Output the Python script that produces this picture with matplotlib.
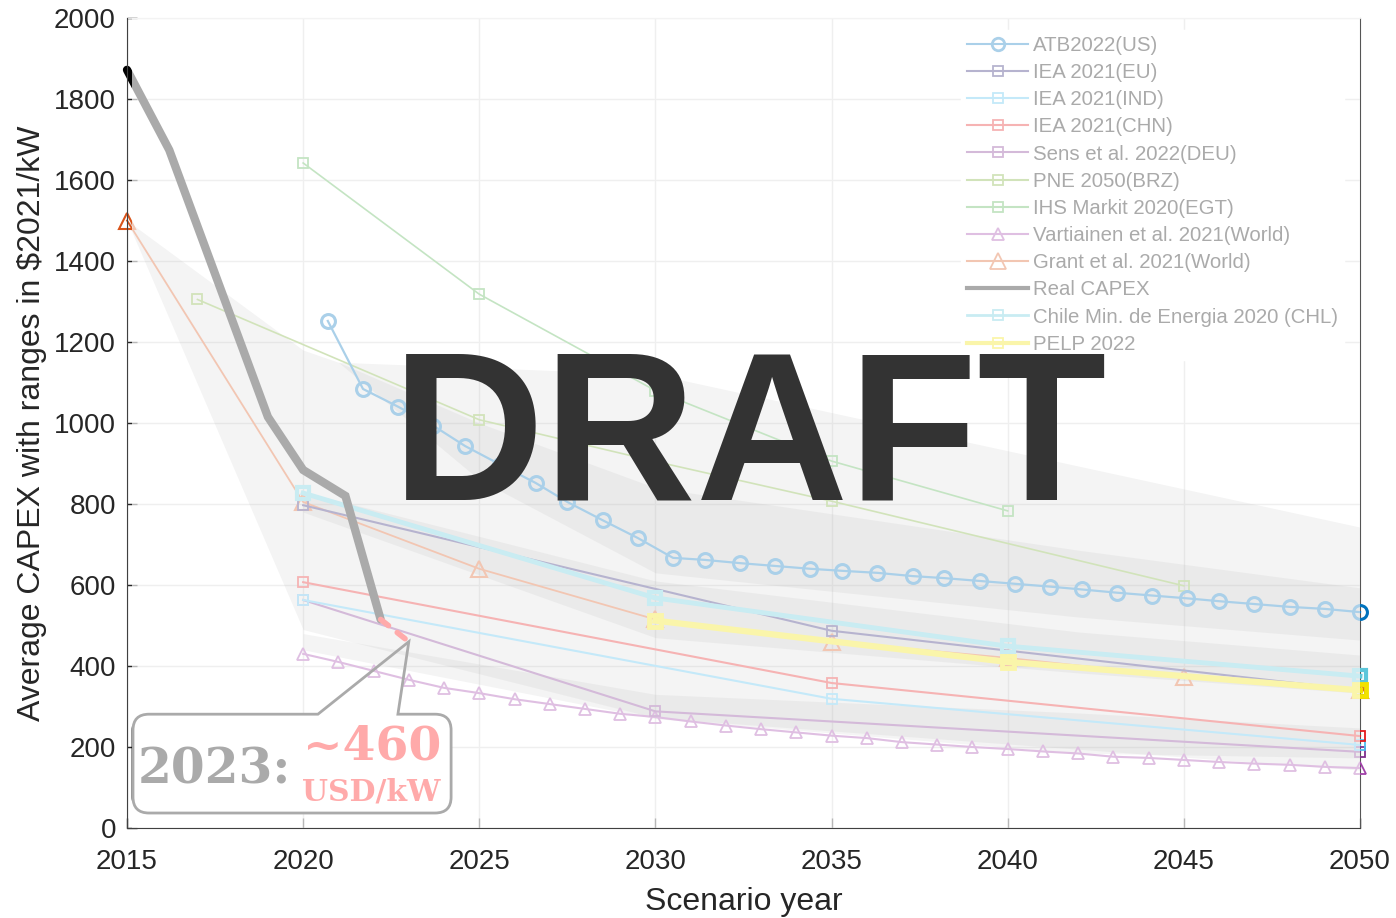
import matplotlib
matplotlib.use("Agg")
import matplotlib.pyplot as plt
from matplotlib.lines import Line2D
from matplotlib.path import Path
from matplotlib.patches import PathPatch, Rectangle
from matplotlib.transforms import IdentityTransform

plt.rcParams['font.family'] = ['Liberation Sans', 'DejaVu Sans']

# ---------------- data ----------------
atb_years = [2020.7, 2021.7, 2022.7, 2023.7, 2024.6, 2025.6, 2026.6, 2027.5, 2028.5, 2029.5,
             2030.5, 2031.4, 2032.4, 2033.4, 2034.4, 2035.3, 2036.3, 2037.3, 2038.2, 2039.2,
             2040.2, 2041.2, 2042.1, 2043.1, 2044.1, 2045.1, 2046.0, 2047.0, 2048.0, 2049.0, 2050.0]
atb_vals = [1252, 1084, 1040, 993, 943, 897, 852, 805, 760, 716,
            667, 662, 654, 647, 640, 635, 630, 622, 617, 610,
            603, 596, 589, 581, 574, 567, 560, 553, 546, 541, 533]

iea_years = [2020, 2035, 2050]
iea_eu = [797, 487, 340]
iea_ind = [563, 319, 205]
iea_chn = [607, 358, 227]

sens_years = [2020, 2030, 2050]
sens_deu = [563, 288, 188]

pne_years = [2017, 2025, 2030, 2035, 2045]
pne_brz = [1305, 1008, 905, 807, 598]

ihs_years = [2020, 2025, 2030, 2035, 2040]
ihs_egt = [1642, 1318, 1080, 906, 783]

vart_years = list(range(2020, 2051))
vart_world = [430, 410, 388, 366, 346, 333, 318, 306, 294, 282, 274, 263, 253, 244, 236, 228,
              222, 212, 206, 200, 195, 189, 184, 176, 173, 168, 163, 159, 156, 151, 148]

grant_years = [2015, 2020, 2025, 2030, 2035, 2040, 2045, 2050]
grant_world = [1500, 805, 640, 515, 460, 420, 373, 340]

real_years = [2015, 2016.2, 2019, 2020, 2021.2, 2022.2]
real_capex = [1872, 1674, 1015, 884, 820, 515]
est_years = [2022.2, 2023]
est_capex = [515, 460]

chile_years = [2020, 2030, 2040, 2050]
chile_chl = [827, 568, 449, 375]

pelp_years = [2030, 2040, 2050]
pelp_vals = [512, 410, 340]

# scenario ranges (lower, upper)
rangeA_x = [2015, 2020, 2021, 2030, 2050]
rangeA_lo = [1500, 490, 468, 272, 143]
rangeA_hi = [1500, 1180, 1150, 1120, 743]
rangeB_x = [2021, 2025, 2030, 2042, 2050]
rangeB_lo = [1150, 860, 630, 521, 464]
rangeB_hi = [1150, 1000, 840, 686, 593]
rangeC_x = [2020, 2030, 2042, 2050]
rangeC_lo = [780, 470, 383, 333]
rangeC_hi = [830, 610, 484, 427]
rangeD_x = [2020, 2030, 2042, 2050]
rangeD_lo = [440, 270, 185, 173]
rangeD_hi = [480, 330, 284, 247]

labels = ['ATB2022(US)', 'IEA 2021(EU)', 'IEA 2021(IND)', 'IEA 2021(CHN)',
          'Sens et al. 2022(DEU)', 'PNE 2050(BRZ)', 'IHS Markit 2020(EGT)',
          'Vartiainen et al. 2021(World)', 'Grant et al. 2021(World)', 'Real CAPEX',
          'Chile Min. de Energia 2020 (CHL)', 'PELP 2022']

yticks = list(range(0, 2001, 200))
xticks = list(range(2015, 2051, 5))

# ---------------- colours ----------------
c_atb = '#0072BD'
c_eu = '#241c70'
c_ind = '#4DBEEE'
c_chn = '#E41A1C'
c_sens = '#7E2F8E'
c_pne = '#77AC30'
c_ihs = '#4daf4a'
c_vart = '#a040a8'
c_grant = '#D95319'
c_real = '#000000'
c_chile = '#5cc6da'
c_pelp = '#f2e200'

# ---------------- figure ----------------
W, H = 1396, 918
fig = plt.figure(figsize=(W / 100, H / 100), dpi=100)
ax = fig.add_axes([127 / W, 90 / H, 1233 / W, 810 / H])
ax.set_xlim(2015, 2050)
ax.set_ylim(0, 2000)
ax.autoscale(False)

ax.grid(True, color='#cfcfcf', lw=1.0)
ax.set_axisbelow(True)

for rx, lo, hi in [(rangeA_x, rangeA_lo, rangeA_hi), (rangeB_x, rangeB_lo, rangeB_hi),
                   (rangeC_x, rangeC_lo, rangeC_hi), (rangeD_x, rangeD_lo, rangeD_hi)]:
    ax.fill_between(rx, lo, hi, color='black', alpha=0.13, lw=0, zorder=1)


def series(x, y, color, marker, ms, lw=1.5, mew=1.3, z=3):
    ax.plot(x, y, color=color, lw=lw, marker=marker, ms=ms, mfc='none', mec=color,
            mew=mew, clip_on=False, zorder=z)


series(pne_years, pne_brz, c_pne, 's', 7.5, lw=1.2)
series(ihs_years, ihs_egt, c_ihs, 's', 7.5, lw=1.2)
series(vart_years, vart_world, c_vart, '^', 9, lw=1.5)
series(sens_years, sens_deu, c_sens, 's', 7.5)
series(iea_years, iea_ind, c_ind, 's', 7.5)
series(iea_years, iea_chn, c_chn, 's', 7.5)
series(grant_years, grant_world, c_grant, '^', 11, lw=1.3, mew=1.5)
series(iea_years, iea_eu, c_eu, 's', 7.5)
series(chile_years, chile_chl, c_chile, 's', 8, lw=3.5, mew=3, z=4)
series(pelp_years, pelp_vals, c_pelp, 's', 8, lw=4.5, mew=3.5, z=4)
series(atb_years, atb_vals, c_atb, 'o', 10, lw=1.6, mew=2.2, z=5)

ax.plot(real_years, real_capex, color=c_real, lw=6, solid_capstyle='round',
        solid_joinstyle='miter', clip_on=False, zorder=6)
ax.plot(est_years, est_capex, color='red', lw=4, linestyle=(0, (1.8, 2.0)),
        dash_capstyle='round', zorder=7)

# ---------------- callout ----------------
def disp(x, y):
    return ax.transData.transform((x, y))

L, T = disp(2015.17, 281)
R, B = disp(2024.2, 37)
wx1, _ = disp(2020.42, 0)
wx2, _ = disp(2022.69, 0)
px, py = disp(est_years[-1], est_capex[-1])
r = 16

box_v = [(L + r, T), (R - r, T), (R, T), (R, T - r), (R, B + r), (R, B), (R - r, B),
         (L + r, B), (L, B), (L, B + r), (L, T - r), (L, T), (L + r, T), (L + r, T)]
box_c = [Path.MOVETO, Path.LINETO, Path.CURVE3, Path.CURVE3, Path.LINETO, Path.CURVE3,
         Path.CURVE3, Path.LINETO, Path.CURVE3, Path.CURVE3, Path.LINETO, Path.CURVE3,
         Path.CURVE3, Path.CLOSEPOLY]
ax.add_patch(PathPatch(Path(box_v, box_c), transform=IdentityTransform(), facecolor='white',
                       edgecolor='none', zorder=8, clip_on=False))

out_v = [(L + r, T), (wx1, T), (px, py), (wx2, T), (R - r, T), (R, T), (R, T - r),
         (R, B + r), (R, B), (R - r, B), (L + r, B), (L, B), (L, B + r), (L, T - r),
         (L, T), (L + r, T), (L + r, T)]
out_c = [Path.MOVETO, Path.LINETO, Path.LINETO, Path.LINETO, Path.LINETO, Path.CURVE3,
         Path.CURVE3, Path.LINETO, Path.CURVE3, Path.CURVE3, Path.LINETO, Path.CURVE3,
         Path.CURVE3, Path.LINETO, Path.CURVE3, Path.CURVE3, Path.CLOSEPOLY]
ax.add_patch(PathPatch(Path(out_v, out_c), transform=IdentityTransform(), facecolor='none',
                       edgecolor='black', lw=2, zorder=9, clip_on=False))

serif = ['DejaVu Serif']
ax.text(2015.3, 111, '2023:', family=serif, fontweight='bold', fontsize=35,
        color='black', ha='left', va='baseline', zorder=10)
ax.text(2020.0, 168, '~%d' % est_capex[-1], family=serif, fontweight='bold', fontsize=34,
        color='red', ha='left', va='baseline', zorder=10)
ax.text(2019.98, 67, 'USD/kW', family=serif, fontweight='bold', fontsize=21.5,
        color='red', ha='left', va='baseline', zorder=10)

# ---------------- legend ----------------
def h(color, marker, ms, lw=1.5, mew=1.3):
    return Line2D([], [], color=color, lw=lw, marker=marker, ms=ms, mfc='none',
                  mec=color, mew=mew)

handles = [h(c_atb, 'o', 9, mew=2), h(c_eu, 's', 7), h(c_ind, 's', 7), h(c_chn, 's', 7),
           h(c_sens, 's', 7), h(c_pne, 's', 7), h(c_ihs, 's', 7), h(c_vart, '^', 8),
           h(c_grant, '^', 11), Line2D([], [], color=c_real, lw=3),
           h(c_chile, 's', 7, lw=2), h(c_pelp, 's', 7, lw=3)]
leg = ax.legend(handles, labels, loc='upper left', bbox_to_anchor=(0.668, 0.998),
                fontsize=14.7, labelspacing=0.40, handlelength=3.0, handletextpad=0.25,
                borderpad=0.3, frameon=True, facecolor='white', edgecolor='white',
                framealpha=1, fancybox=False)
leg.set_zorder(12)

# ---------------- fading veil over the plotting area ----------------
ax.add_patch(Rectangle((0.004, 0.0), 0.996, 1.0, transform=ax.transAxes, facecolor='white',
                       edgecolor='none', alpha=0.67, zorder=50))

# ---------------- axes styling ----------------
ax.set_xticks(xticks)
ax.set_yticks(yticks)
ax.tick_params(direction='in', length=7, width=1, labelsize=20, colors='#262626', pad=8)
ax.tick_params(axis='x', pad=15)
for side in ['left', 'bottom']:
    ax.spines[side].set_color('#404040')
    ax.spines[side].set_zorder(60)
ax.spines['right'].set_color('#555555')
ax.spines['top'].set_color('#dddddd')

ax.set_xlabel('Scenario year', fontsize=23, color='#262626', labelpad=9)
ax.set_ylabel(r'Average CAPEX with ranges in \$2021/kW', fontsize=23, color='#262626',
              labelpad=5)

fig.text(0.537, (H - 500) / H, 'DRAFT', ha='center', va='baseline', fontsize=152,
         fontweight='bold', color='#333333', zorder=100)

fig.savefig('out.png', dpi=100)
